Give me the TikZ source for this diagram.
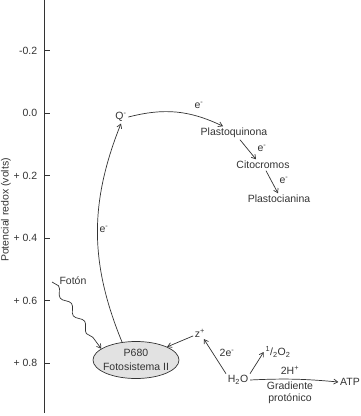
\documentclass[tikz,border=0pt]{standalone}
\usepackage{fontspec}
\setmainfont{Liberation Sans}
\usetikzlibrary{arrows.meta,decorations.pathmorphing,shapes.geometric}
\definecolor{ink}{HTML}{333333}
\definecolor{psgray}{HTML}{E2E2E2}

\begin{document}
\begin{tikzpicture}[x=1pt,y=-1pt,line width=0.7pt,draw=ink,text=ink,
    font=\fontsize{10.5}{12}\selectfont,
    every node/.style={inner sep=1.5pt},
    flow/.style={-{Straight Barb[length=4pt,width=5pt]}},
    ps/.style={draw, ellipse, fill=psgray, minimum width=86pt, minimum height=37pt}]
      \useasboundingbox (0,0) rectangle (360,416);

      % axis
      \draw (44,0) -- (44,413);
      \foreach \lab [count=\i from 0] in {-0.2,0.0,+ 0.2,+ 0.4,+ 0.6,+ 0.8} {
        \draw (44,{50.5+62.5*\i}) -- (50,{50.5+62.5*\i});
        \node[anchor=east] (tick\i) at (39,{50.5+62.5*\i}) {\lab};
      }
      \node[rotate=90] (axlab) at (6,210) {Potencial redox (volts)};

      \node[ps] (p680) at (136,360) {};
      \node[align=center,font=\fontsize{10.5}{14}\selectfont] (p680txt) at (p680) {P680\\Fotosistema II};
      \node (q) at (121,117) {Q\textsuperscript{-}};
      \node (pq) at (234,133) {Plastoquinona};
      \node (cito) at (263,165) {Citocromos};
      \node (pc) at (279,199) {Plastocianina};
      \node (foton) at (73,281) {Fotón};
      \coordinate (fstart) at (52,282);
      \node (z) at (200,333) {z\textsuperscript{+}};
      \node (h2o) at (238,380) {H\textsubscript{2}O};
      \node (o2) at (278,352) {\textsuperscript{1}/\textsubscript{2}O\textsubscript{2}};
      \node (atp) at (350,382) {ATP};
      \node (hplus) at (290,370) {2H\textsuperscript{+}};
      \node[align=center] (grad) at (290,393) {Gradiente\\protónico};

      % electron labels
      \node (e1) at (104,229) {e\textsuperscript{-}};
      \node (e2) at (199,105) {e\textsuperscript{-}};
      \node (e3) at (262,148) {e\textsuperscript{-}};
      \node (e4) at (284,180) {e\textsuperscript{-}};
      \node (e5) at (227,353) {2e\textsuperscript{-}};

      \path[flow]
      (p680.128) edge[bend left=22] (q.south)
      (q.east) edge[bend left=20] ([xshift=-11pt]pq.north)
      ([xshift=6pt]pq.south) edge ([xshift=-7pt]cito.north)
      ([xshift=3pt]cito.south) edge ([xshift=-1pt]pc.north)
      (z) edge (p680)
      (h2o.north west) edge (z)
      (h2o.north east) edge (o2.west)
      (h2o.east) edge[bend left=4] (atp.west)
      ;

      \draw[flow,decorate,decoration={snake,segment length=22pt,amplitude=3pt,post length=5pt}]
        (fstart) -- (p680.162);

    \end{tikzpicture}
\end{document}
